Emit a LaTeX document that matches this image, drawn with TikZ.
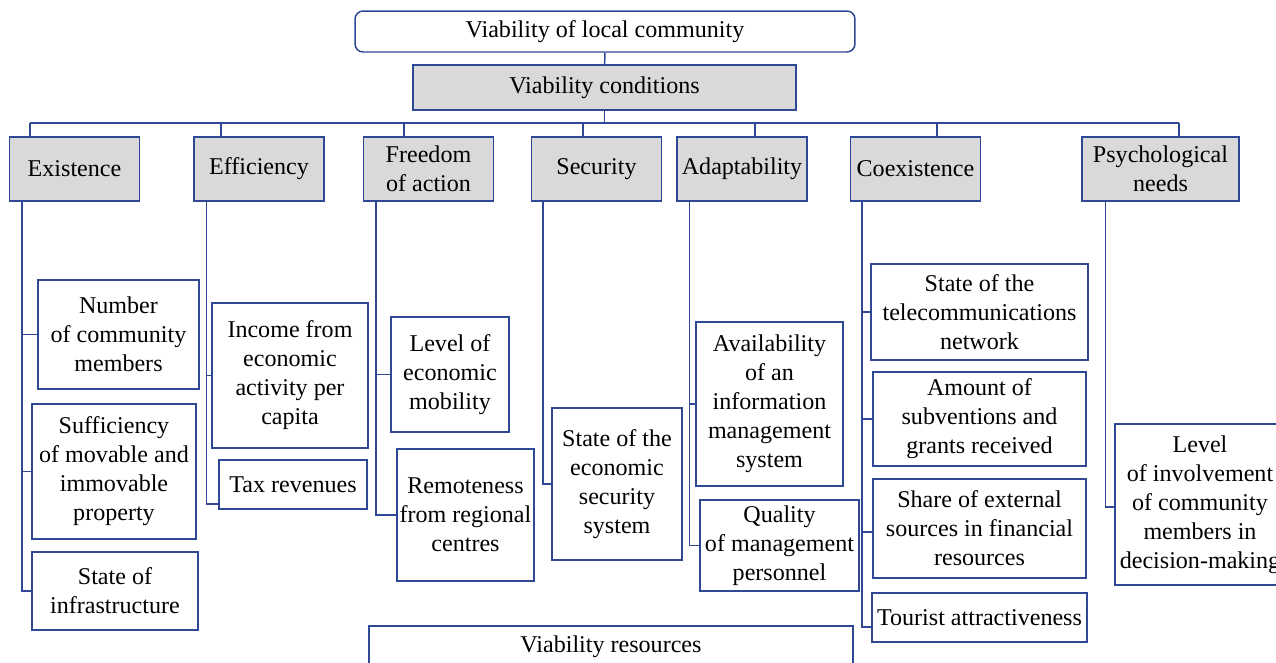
\documentclass[tikz,border=0pt]{standalone}
\usepackage{fontspec}
\setmainfont{Liberation Serif}
\usepackage{tikz}

\definecolor{frameblue}{RGB}{47,72,150}
\definecolor{condgray}{RGB}{217,217,217}

\begin{document}
\begin{tikzpicture}[x=0.02cm, y=-0.02cm, line width=0.85pt, draw=frameblue,
    every node/.style={font=\fontsize{13.7}{16.5}\selectfont, align=center, inner sep=1pt},
    headbox/.style={draw=frameblue, fill=white, rounded corners=0.16cm},
    condbox/.style={draw=frameblue, fill=condgray},
    catbox/.style={condbox, minimum width=2.6cm, minimum height=1.28cm},
    leaf/.style={draw=frameblue, fill=white}]
            \useasboundingbox (0,0) rectangle (1276,663);

            % Head of the tree
            \node[headbox, minimum width=10cm, minimum height=0.82cm] (top) at (605,31.5) {Viability of local community};
            \node[condbox, minimum width=7.66cm, minimum height=0.9cm] (cond) at (604.5,87.5) {Viability conditions};

            % Conditions
            \node[catbox] (exist) at (74.5,169) {Existence};
            \node[catbox] (effic) at (259,169) {Efficiency};
            \node[catbox] (freed) at (428.5,169) {Freedom\\of action};
            \node[catbox] (secur) at (596.5,169) {Security};
            \node[catbox] (adapt) at (742,169) {Adaptability};
            \node[catbox] (coex) at (915.5,169) {Coexistence};
            \node[catbox, minimum width=3.14cm] (psych) at (1160.5,169) {Psychological\\needs};

            % Indicators
            \node[leaf, minimum width=3.22cm, minimum height=2.18cm] (numb) at (118.5,334.5) {Number\\of community\\members};
            \node[leaf, minimum width=3.28cm, minimum height=2.7cm] (suff) at (114,471.5) {Sufficiency\\of movable and\\immovable\\property};
            \node[leaf, minimum width=3.32cm, minimum height=1.56cm] (infra) at (115,591) {State of\\infrastructure};
            \node[leaf, minimum width=3.12cm, minimum height=2.9cm] (income) at (290,375.5) {Income from\\economic\\activity per\\capita};
            \node[leaf, minimum width=2.96cm, minimum height=0.98cm] (tax) at (293,484.5) {Tax revenues};
            \node[leaf, minimum width=2.36cm, minimum height=2.3cm] (mobil) at (450,374.5) {Level of\\economic\\mobility};
            \node[leaf, minimum width=2.74cm, minimum height=2.64cm] (remote) at (465.5,515) {Remoteness\\from regional\\centres};
            \node[leaf, minimum width=2.6cm, minimum height=3.04cm] (secsys) at (617,484) {State of the\\economic\\security\\system};
            \node[leaf, minimum width=2.94cm, minimum height=3.28cm] (avail) at (769.5,404) {Availability\\of an\\information\\management\\system};
            \node[leaf, minimum width=3.18cm, minimum height=1.82cm] (quality) at (779.5,545.5) {Quality\\of management\\personnel};
            \node[leaf, minimum width=4.34cm, minimum height=1.92cm] (telecom) at (979.5,312) {State of the\\telecommunications\\network};
            \node[leaf, minimum width=4.26cm, minimum height=1.88cm] (amount) at (979.5,419) {Amount of\\subventions and\\grants received};
            \node[leaf, minimum width=4.26cm, minimum height=1.98cm] (share) at (979.5,528.5) {Share of external\\sources in financial\\resources};
            \node[leaf, minimum width=4.3cm, minimum height=0.98cm] (tourist) at (979.5,617.5) {Tourist attractiveness};
            \node[leaf, minimum width=3.4cm, minimum height=3.22cm] (involve) at (1200,504.5) {Level\\of involvement\\of community\\members in\\decision-making};

            % Resources
            \node[leaf, minimum width=9.68cm, minimum height=0.84cm] (res) at (611,647) {Viability resources};

            % Bus
            \draw (top) -- (cond);
            \coordinate (bus-l) at (30,123);
            \coordinate (bus-r) at (1179,123);
            \draw (cond.south) -- (cond.south |- bus-l);
            \draw (bus-l) -- (bus-r);
            \foreach \n/\x in {exist/30, effic/221, freed/404, secur/583, adapt/755, coex/937, psych/1179}{
                \coordinate (tap) at (\x,123);
                \draw (tap) -- (tap |- \n.north);
            }

            % Trunks
            \foreach \n/\s in {exist/0.26cm, effic/0.26cm, freed/0.26cm, secur/0.24cm, adapt/0.26cm, coex/0.24cm, psych/0.48cm}
                \coordinate (\n-t) at ([xshift=\s]\n.south west);
            \draw (exist-t) |- (numb.west) (exist-t) |- (suff.west) (exist-t) |- (infra.west);
            \draw (effic-t) |- (income.west) (effic-t) |- ([yshift=-0.39cm]tax.west);
            \draw (freed-t) |- (mobil.west) (freed-t) |- (remote.west);
            \draw (secur-t) |- (secsys.west);
            \draw (adapt-t) |- (avail.west) (adapt-t) |- (quality.west);
            \draw (coex-t) |- (telecom.west) (coex-t) |- (amount.west) (coex-t) |- ([yshift=-0.07cm]share.west) (coex-t) |- ([yshift=-0.19cm]tourist.west);
            \draw (psych-t) |- ([yshift=-0.05cm]involve.west);

        \end{tikzpicture}
\end{document}
